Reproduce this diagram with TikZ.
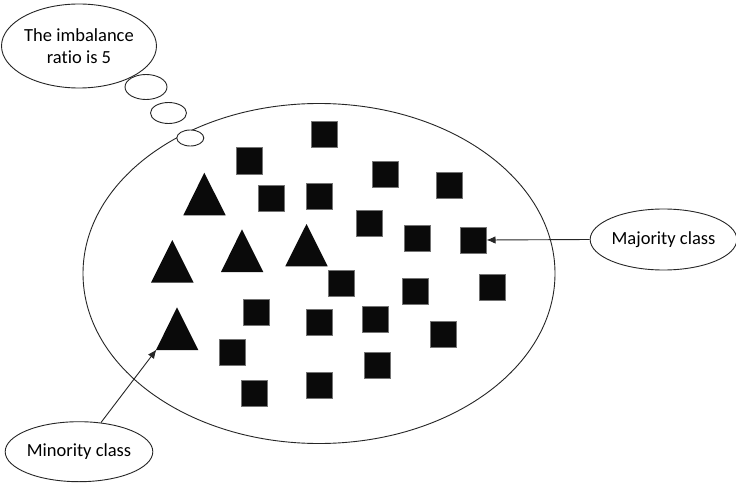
\documentclass[tikz,border=0pt]{standalone}
\usepackage{fontspec}
\setmainfont{Carlito}[Ligatures={NoCommon,NoRare,NoDiscretionary}]
\usetikzlibrary{shapes.geometric,arrows.meta}
\definecolor{ink}{HTML}{0A0A0A}
\definecolor{edge}{HTML}{262626}
\begin{document}
\begin{tikzpicture}[x=1pt,y=-1pt,
  bubble/.style={ellipse,draw=edge,line width=0.9pt,fill=white,inner sep=0pt},
  sq/.style={rectangle,fill=ink,draw=black!55,line width=0.4pt,minimum size=26pt,inner sep=0pt},
  tri/.style={fill=ink},
  conn/.style={draw=edge,line width=0.9pt,-{Latex[length=9pt,width=7.5pt]}},
  every node/.style={font=\fontsize{18.5}{22.5}\selectfont}]
\useasboundingbox[fill=white] (0,0) rectangle (736,484);
% main cloud
\node[bubble,minimum width=472pt,minimum height=340pt] (cloud) at (319,273.5) {};
% thought bubbles
\node[bubble,minimum width=145pt,minimum height=84pt,align=center] (thought) at (79,46) {The imbalance\\ratio is 5};
\node[bubble,minimum width=42pt,minimum height=25pt] (b1) at (146,87) {};
\node[bubble,minimum width=36pt,minimum height=21pt] (b2) at (168.5,113) {};
\node[bubble,minimum width=27pt,minimum height=16pt] (b3) at (190.3,138) {};
% squares
\foreach \n/\x/\y in {1/324.5/134.5,2/248.7/160.7,3/384.7/173.7,4/448.7/185.3,5/271.3/198.3,
  6/318.7/196.3,7/369.3/223,8/416.7/238,9/473.3/240,10/341.3/283.3,11/415/291,12/492/287,
  13/256/311.7,14/318.7/322.3,15/375.3/319.3,16/443.3/334.3,17/231.7/352.5,18/377/365.5,
  19/254.3/393,20/318.7/385.3}
  \node[sq] (s\n) at (\x,\y) {};
% triangles
\fill[tri] (204.3,172.7) -- (225.7,215.3) -- (183.3,215.3) -- cycle;
\fill[tri] (172.3,240) -- (193.7,282.7) -- (151,282.7) -- cycle;
\fill[tri] (242,229.3) -- (263.3,272) -- (221,272) -- cycle;
\fill[tri] (306.5,224) -- (327.7,266.3) -- (285.3,266.3) -- cycle;
\fill[tri] (177,307.3) -- (198.3,350) -- (156,350) -- cycle;
\coordinate (t5bl) at (156.5,349.5);
% labels
\node[bubble,minimum width=143pt,minimum height=61pt] (major) at (663.5,239.5) {Majority class};
\node[bubble,minimum width=145pt,minimum height=60pt] (minor) at (79,451.7) {Minority class};
% connectors
\draw[conn] (major.west) -- (s9.east);
\draw[conn] (minor.53) -- (t5bl);
\end{tikzpicture}
\end{document}
